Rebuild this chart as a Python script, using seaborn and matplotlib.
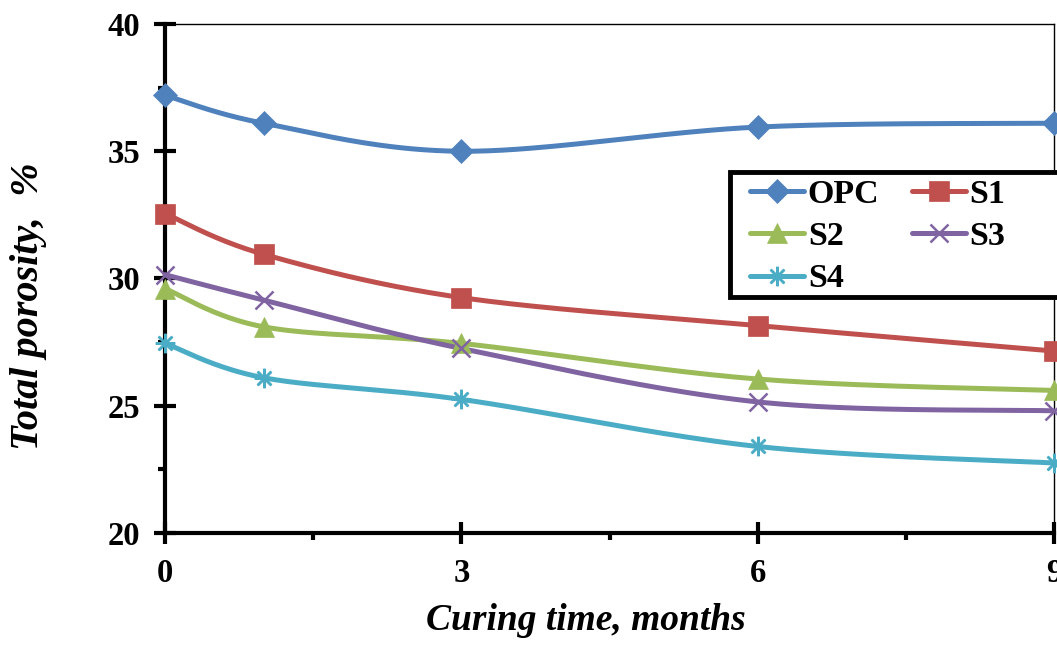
import numpy as np
import pandas as pd
import matplotlib
matplotlib.use("Agg")
import matplotlib.pyplot as plt
from matplotlib.lines import Line2D
from matplotlib.patches import Rectangle
from matplotlib.ticker import MultipleLocator
import seaborn as sns

months = [0, 1, 3, 6, 9]
series_names = ["OPC", "S1", "S2", "S3", "S4"]
opc = [37.2, 36.1, 35.0, 35.95, 36.1]
s1 = [32.55, 30.95, 29.25, 28.15, 27.15]
s2 = [29.6, 28.1, 27.45, 26.05, 25.6]
s3 = [30.15, 29.15, 27.25, 25.15, 24.8]
s4 = [27.45, 26.1, 25.25, 23.4, 22.75]
x_ticks = [0, 3, 6, 9]
y_ticks = [20, 25, 30, 35, 40]

colors = {"OPC": "#4F81BD", "S1": "#C0504D", "S2": "#9BBB59", "S3": "#8064A2", "S4": "#4BACC6"}
markers = {"OPC": "D", "S1": "s", "S2": "^", "S3": "x", "S4": (8, 2, 0)}
msize = {"OPC": 12, "S1": 14, "S2": 14, "S3": 13, "S4": 14}
mews = {"OPC": 0.5, "S1": 0.5, "S2": 0.5, "S3": 1.8, "S4": 1.8}

df = pd.DataFrame({"month": months * 5,
                   "porosity": opc + s1 + s2 + s3 + s4,
                   "series": sum([[n] * 5 for n in series_names], [])})

sns.set_theme(style="white")
plt.rcParams["font.family"] = ["Liberation Serif", "DejaVu Serif"]
plt.rcParams["text.color"] = "black"
plt.rcParams["axes.labelcolor"] = "black"
plt.rcParams["xtick.color"] = "black"
plt.rcParams["ytick.color"] = "black"

W, H = 1057, 646
fig = plt.figure(figsize=(W / 100, H / 100), dpi=100)
ax = fig.add_axes([165 / W, 1 - 533 / H, (1054 - 165) / W, (533 - 24) / H])
ax.set_xlim(0, 9)
ax.set_ylim(20, 40)

# scale used only to make the curve smoothing geometric (pixel-like aspect)
sx, sy = 889 / 9.0, 509 / 20.0

def smooth(xs, ys, n=40):
    P = np.column_stack([np.array(xs) * sx, np.array(ys) * sy])
    Pe = np.vstack([P[0], P, P[-1]])
    out = []
    for i in range(1, len(Pe) - 2):
        p0, p1, p2, p3 = Pe[i - 1], Pe[i], Pe[i + 1], Pe[i + 2]
        c1 = p1 + (p2 - p0) / 6.0
        c2 = p2 - (p3 - p1) / 6.0
        t = np.linspace(0, 1, n)[:, None]
        seg = (1 - t) ** 3 * p1 + 3 * (1 - t) ** 2 * t * c1 + 3 * (1 - t) * t ** 2 * c2 + t ** 3 * p2
        out.append(seg if i == 1 else seg[1:])
    out = np.vstack(out)
    return out[:, 0] / sx, out[:, 1] / sy

for name in series_names:
    sub = df[df.series == name]
    cx, cy = smooth(sub.month.tolist(), sub.porosity.tolist())
    ax.plot(cx, cy, color=colors[name], lw=3.6, solid_capstyle="round", clip_on=False, zorder=3)
    sns.lineplot(data=sub, x="month", y="porosity", ax=ax, linestyle="none",
                 marker=markers[name], markersize=msize[name], color=colors[name],
                 markeredgecolor=colors[name], markeredgewidth=mews[name],
                 clip_on=False, zorder=4, legend=False)

for side in ["left", "bottom"]:
    ax.spines[side].set_linewidth(3.0)
    ax.spines[side].set_color("black")
for side in ["top", "right"]:
    ax.spines[side].set_linewidth(1.0)
    ax.spines[side].set_color("black")

ax.set_xticks(x_ticks)
ax.set_yticks(y_ticks)
ax.xaxis.set_minor_locator(MultipleLocator(1.5))
ax.yaxis.set_minor_locator(MultipleLocator(2.5))
ax.tick_params(which="major", direction="inout", length=16, width=3, color="black",
               labelsize=23.5, pad=10, bottom=True, left=True, labelcolor="black")
ax.tick_params(which="minor", direction="out", length=5, width=3, color="black",
               bottom=True, left=True)
for lab in ax.get_xticklabels() + ax.get_yticklabels():
    lab.set_fontweight("bold")

ax.set_xlabel("Curing time, months", fontsize=27, fontweight="bold", style="italic", color="black")
ax.set_ylabel("Total porosity,  %", fontsize=29, fontweight="bold", style="italic", color="black")
ax.xaxis.set_label_coords((586 - 165) / 889, (533 - 603) / 509)
ax.yaxis.set_label_coords((47 - 165) / 889, (533 - 306) / 509)
ax.grid(False)

# legend frame (extends past the right edge, as in the reference)
fig.patches.append(Rectangle((730 / W, 1 - 297 / H), 400 / W, 125 / H, transform=fig.transFigure,
                             facecolor="white", edgecolor="black", linewidth=3.5, zorder=5))

order = ["OPC", "S2", "S4", "S1", "S3"]
handles = [Line2D([], [], color=colors[n], lw=3.6, marker=markers[n], ms=msize[n],
                  mec=colors[n], mew=mews[n]) for n in order]
leg = fig.legend(handles, order, ncol=2, loc="upper left",
                 bbox_to_anchor=(750 / W, 1 - 179 / H),
                 prop={"family": "Liberation Serif", "weight": "bold", "size": 24.5},
                 frameon=False, handlelength=1.6, handletextpad=0.1, columnspacing=0.95,
                 labelspacing=0.33, borderpad=0, borderaxespad=0)
leg.set_zorder(6)

fig.savefig("out.png", dpi=100)
